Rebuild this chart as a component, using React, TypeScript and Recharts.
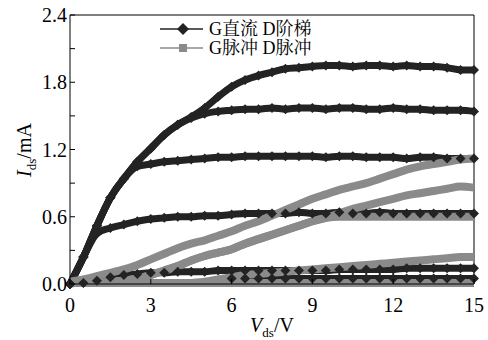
import { LineChart, Line, XAxis, YAxis, ReferenceLine } from "recharts";

// drain voltage samples (V)
const VDS = [
  0, 0.5, 1, 1.5, 2, 2.5, 3, 3.5, 4, 4.5, 5, 5.5, 6, 6.5, 7, 7.5, 8, 8.5, 9, 9.5, 10,
  10.5, 11, 11.5, 12, 12.5, 13, 13.5, 14, 14.5, 15,
];

// G DC gate, stepped drain (mA)
const DC1 = [
  0.0, 0.24, 0.52, 0.77, 0.94, 1.09, 1.21, 1.33, 1.42, 1.49, 1.57, 1.67, 1.76, 1.82, 1.86, 1.89,
  1.92, 1.93, 1.94, 1.95, 1.95, 1.94, 1.95, 1.95, 1.94, 1.95, 1.94, 1.94, 1.93, 1.91, 1.91,
];
const DC2 = [
  0.0, 0.24, 0.52, 0.77, 0.94, 1.09, 1.21, 1.33, 1.42, 1.48, 1.52, 1.54, 1.55, 1.56, 1.56, 1.57,
  1.56, 1.57, 1.57, 1.56, 1.57, 1.57, 1.56, 1.56, 1.57, 1.56, 1.56, 1.55, 1.55, 1.55, 1.54,
];
const DC3 = [
  0.0, 0.24, 0.52, 0.77, 0.94, 1.05, 1.07, 1.09, 1.1, 1.11, 1.12, 1.13, 1.13, 1.14, 1.14, 1.14,
  1.14, 1.14, 1.14, 1.13, 1.14, 1.14, 1.13, 1.13, 1.13, 1.12, 1.13, 1.13, 1.12, 1.12, 1.12,
];
const DC4 = [
  0.0, 0.24, 0.45, 0.5, 0.53, 0.56, 0.58, 0.59, 0.6, 0.6, 0.61, 0.61, 0.62, 0.63, 0.63, 0.63,
  0.63, 0.64, 0.63, 0.63, 0.64, 0.63, 0.63, 0.64, 0.63, 0.63, 0.63, 0.63, 0.63, 0.63, 0.63,
];
const DC5 = [
  0.0, 0.01, 0.03, 0.06, 0.08, 0.09, 0.1, 0.1, 0.11, 0.11, 0.11, 0.12, 0.12, 0.12, 0.12, 0.12,
  0.12, 0.12, 0.12, 0.12, 0.13, 0.13, 0.13, 0.13, 0.13, 0.14, 0.14, 0.14, 0.14, 0.14, 0.14,
];
const DC6 = [
  null, null, null, null, null, null, null, null, null, null, null, null, 0.05, 0.05, 0.05, 0.05,
  0.05, 0.05, 0.05, 0.05, 0.05, 0.05, 0.05, 0.05, 0.05, 0.05, 0.05, 0.05, 0.05, 0.05, 0.05,
];

// G pulsed gate, pulsed drain (mA)
const PU1 = [
  0.02, 0.04, 0.07, 0.1, 0.13, 0.17, 0.22, 0.27, 0.32, 0.36, 0.39, 0.43, 0.47, 0.52, 0.56, 0.61,
  0.66, 0.71, 0.76, 0.8, 0.84, 0.87, 0.9, 0.94, 0.98, 1.02, 1.05, 1.07, 1.09, 1.11, 1.12,
];
const PU2 = [
  0.01, 0.01, 0.01, 0.02, 0.03, 0.05, 0.08, 0.12, 0.16, 0.21, 0.25, 0.28, 0.31, 0.36, 0.4, 0.44,
  0.48, 0.52, 0.56, 0.59, 0.63, 0.67, 0.7, 0.73, 0.76, 0.79, 0.81, 0.83, 0.85, 0.87, 0.86,
];
const PU3 = [
  0.01, 0.01, 0.01, 0.02, 0.03, 0.05, 0.08, 0.12, 0.16, 0.21, 0.25, 0.28, 0.31, 0.36, 0.4, 0.44,
  0.48, 0.52, 0.56, 0.59, 0.6, 0.6, 0.6, 0.6, 0.6, 0.6, 0.6, 0.6, 0.6, 0.6, 0.6,
];
const PU4 = [
  0.01, 0.01, 0.01, 0.01, 0.01, 0.01, 0.01, 0.01, 0.01, 0.01, 0.02, 0.04, 0.06, 0.08, 0.09, 0.1,
  0.11, 0.12, 0.13, 0.14, 0.15, 0.16, 0.17, 0.18, 0.19, 0.2, 0.21, 0.22, 0.23, 0.24, 0.24,
];
const PU5 = [
  0.01, 0.01, 0.01, 0.01, 0.01, 0.01, 0.01, 0.01, 0.01, 0.01, 0.01, 0.01, 0.01, 0.01, 0.01, 0.01,
  0.01, 0.01, 0.01, 0.01, 0.01, 0.01, 0.01, 0.01, 0.01, 0.01, 0.01, 0.01, 0.01, 0.01, 0.01,
];

const X_TICKS = [0, 3, 6, 9, 12, 15];
const Y_TICKS = [0, 0.3, 0.6, 0.9, 1.2, 1.5, 1.8, 2.1, 2.4];

const LEGEND = ["G直流 D阶梯", "G脉冲 D脉冲"];

const DC_KEYS = ["dc1", "dc2", "dc3", "dc4", "dc5", "dc6"];
const PU_KEYS = ["pu1", "pu2", "pu3", "pu4", "pu5"];
const DC_SERIES = [DC1, DC2, DC3, DC4, DC5, DC6];
const PU_SERIES = [PU1, PU2, PU3, PU4, PU5];

const data = VDS.map((v, i) => {
  const row: Record<string, number | null> = { v };
  DC_KEYS.forEach((k, j) => (row[k] = DC_SERIES[j][i]));
  PU_KEYS.forEach((k, j) => (row[k] = PU_SERIES[j][i]));
  return row;
});

const BLACK = "#232323";
const GRAY = "#8a8a8a";
const FONT = "'Liberation Serif'";
const CJK = "'Liberation Serif', 'Noto Serif CJK SC'";

function Diamond(props: any) {
  const { cx, cy, value } = props;
  if (cx == null || cy == null || value == null) return null;
  const r = 5;
  return (
    <path
      d={`M${cx},${cy - r}L${cx + r},${cy}L${cx},${cy + r}L${cx - r},${cy}Z`}
      fill={BLACK}
    />
  );
}

function YTick({ x, y, payload }: any) {
  const v = payload.value as number;
  const major = Math.round(v * 10) % 6 === 0;
  return (
    <g>
      <line x1={x} x2={x + 5} y1={y} y2={y} stroke="#000" strokeWidth={1} />
      {major && (
        <text
          x={x - 3}
          y={y}
          dy="0.36em"
          textAnchor="end"
          style={{ fontFamily: FONT, fontSize: 20 }}
          fill="#000"
        >
          {v.toFixed(1)}
        </text>
      )}
    </g>
  );
}

function XTick({ x, y, payload }: any) {
  return (
    <g>
      <line x1={x} x2={x} y1={y} y2={y - 5} stroke="#000" strokeWidth={1} />
      <text
        x={x}
        y={y + 28}
        textAnchor="middle"
        style={{ fontFamily: FONT, fontSize: 20 }}
        fill="#000"
      >
        {payload.value}
      </text>
    </g>
  );
}

export default function App() {
  return (
    <div style={{ position: "absolute", left: 0, top: 0, width: 488, height: 340, background: "#fff" }}>
      <LineChart
        width={488}
        height={340}
        data={data}
        margin={{ top: 15, right: 14, bottom: 26, left: 30 }}
      >
        <XAxis
          dataKey="v"
          type="number"
          domain={[0, 15]}
          ticks={X_TICKS}
          tick={<XTick />}
          tickLine={false}
          tickSize={0}
          tickMargin={0}
          height={30}
          axisLine={{ stroke: "#000" }}
          interval={0}
        />
        <YAxis
          type="number"
          domain={[0, 2.4]}
          ticks={Y_TICKS}
          tick={<YTick />}
          tickLine={false}
          tickSize={0}
          tickMargin={0}
          width={40}
          axisLine={{ stroke: "#000" }}
          interval={0}
        />
        <ReferenceLine x={15} stroke="#000" strokeWidth={1} />
        <ReferenceLine y={2.4} stroke="#000" strokeWidth={1} />
        {DC_KEYS.map((k) => (
          <Line
            key={k}
            dataKey={k}
            type="monotone"
            stroke={BLACK}
            strokeWidth={7}
            dot={<Diamond />}
            activeDot={false}
            connectNulls={false}
            isAnimationActive={false}
          />
        ))}
        {PU_KEYS.map((k) => (
          <Line
            key={k}
            dataKey={k}
            type="monotone"
            stroke={GRAY}
            strokeWidth={8}
            dot={false}
            activeDot={false}
            isAnimationActive={false}
          />
        ))}
      </LineChart>
      <svg
        width={488}
        height={340}
        style={{ position: "absolute", left: 0, top: 0, pointerEvents: "none" }}
      >
        {/* legend */}
        <line x1={160} x2={203} y1={29} y2={29} stroke={BLACK} strokeWidth={1.5} />
        <path d="M183,23L189,29L183,35L177,29Z" fill={BLACK} />
        <text x={209} y={35} style={{ fontFamily: CJK, fontSize: 18 }} fill="#000">
          {LEGEND[0]}
        </text>
        <line x1={160} x2={203} y1={48} y2={48} stroke={GRAY} strokeWidth={1.5} />
        <rect x={179} y={44} width={8} height={8} fill={GRAY} />
        <text x={209} y={54} style={{ fontFamily: CJK, fontSize: 18 }} fill="#000">
          {LEGEND[1]}
        </text>
        {/* axis titles */}
        <text
          transform="translate(31,150) rotate(-90)"
          textAnchor="middle"
          style={{ fontFamily: FONT, fontSize: 20 }}
          fill="#000"
        >
          <tspan fontStyle="italic">I</tspan>
          <tspan fontSize={13} dy={5}>ds</tspan>
          <tspan dy={-5}>/mA</tspan>
        </text>
        <text
          x={272}
          y={332}
          textAnchor="middle"
          style={{ fontFamily: FONT, fontSize: 20 }}
          fill="#000"
        >
          <tspan fontStyle="italic">V</tspan>
          <tspan fontSize={13} dy={5}>ds</tspan>
          <tspan dy={-5}>/V</tspan>
        </text>
      </svg>
    </div>
  );
}
